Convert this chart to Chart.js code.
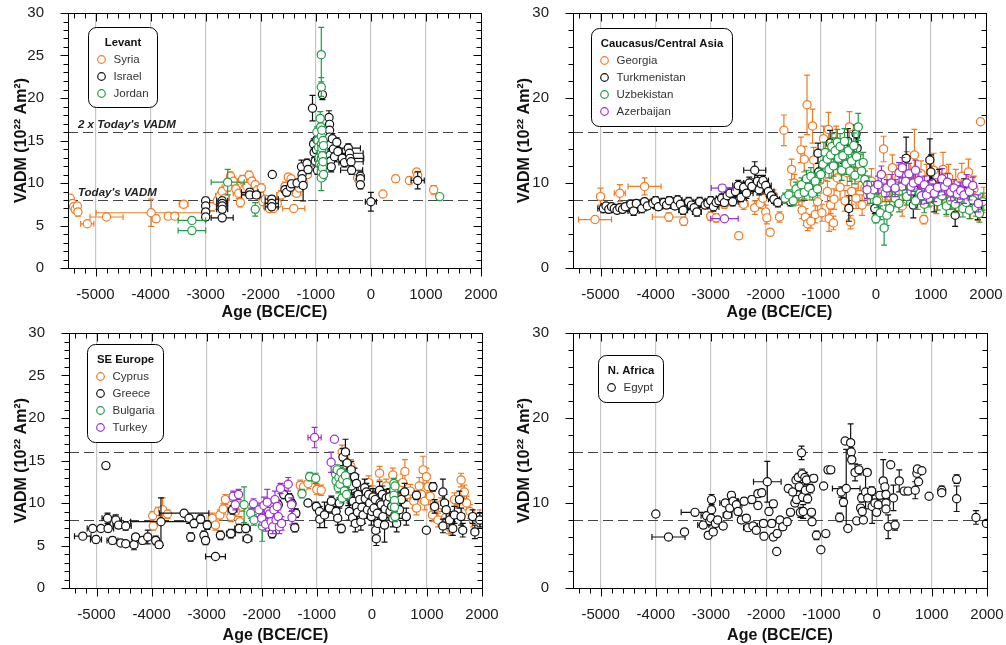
<!DOCTYPE html>
<html>
<head>
<meta charset="utf-8">
<script src="https://cdn.jsdelivr.net/npm/chart.js@4.4.1/dist/chart.umd.min.js"></script>
<style>
  body { margin: 0; background: #fff; }
  #wrap { position: relative; width: 1006px; height: 645px; }
  #wrap canvas { position: absolute; }
</style>
</head>
<body>
<div id="wrap">
  <canvas id="levant" width="503" height="322" style="left:0;top:0"></canvas>
  <canvas id="caucasus" width="503" height="322" style="left:503px;top:0"></canvas>
  <canvas id="seEurope" width="503" height="323" style="left:0;top:322px"></canvas>
  <canvas id="nAfrica" width="503" height="323" style="left:503px;top:322px"></canvas>
</div>
<script>
// axis setup
const ageRange = [-5500, 2000]
const vadmRange = [0, 30]
const ageTicks = [-5000, -4000, -3000, -2000, -1000, 0, 1000, 2000]
const vadmTicksFine = [0, 5, 10, 15, 20, 25, 30]
const vadmTicksCoarse = [0, 10, 20, 30]
const todayVADM = 8
const twiceTodayVADM = 16

// each row: [age, VADM, age error, VADM error]
const syria = [
  [-5460, 8.2, 40, 0.3], [-5420, 7.6, 30, 0.3], [-5400, 7.2, 30, 0.3], [-5370, 6.9, 30, 0.3],
  [-5330, 7.3, 30, 0.4], [-5320, 6.6, 30, 0.5], [-5150, 5.2, 120, 0.3], [-4800, 6.0, 300, 0.2],
  [-3990, 6.5, 1000, 1.6], [-3900, 5.8, 60, 0.4], [-3680, 6.1, 60, 0.3], [-3560, 6.1, 60, 0.3],
  [-3400, 7.5, 80, 0.4], [-2880, 7.2, 80, 0.5], [-2790, 7.9, 60, 0.4], [-2740, 8.5, 80, 0.5],
  [-2700, 9.0, 60, 0.5], [-2650, 8.2, 80, 0.4], [-2600, 9.5, 100, 0.5], [-2550, 10.8, 60, 0.5],
  [-2500, 10.2, 80, 0.5], [-2450, 9.3, 60, 0.5], [-2400, 8.8, 100, 0.6], [-2370, 7.7, 60, 0.5],
  [-2330, 10.4, 60, 0.5], [-2300, 9.2, 80, 0.5], [-2250, 9.6, 60, 0.5], [-2210, 10.9, 60, 0.5],
  [-2160, 10.2, 60, 0.5], [-2100, 9.8, 60, 0.4], [-2060, 9.2, 80, 0.5], [-2020, 8.6, 60, 0.5],
  [-1990, 9.4, 60, 0.5], [-1960, 7.8, 60, 0.4], [-1920, 8.1, 60, 0.4], [-1880, 7.2, 60, 0.4],
  [-1840, 7.0, 60, 0.4], [-1770, 7.0, 60, 0.4], [-1700, 7.6, 60, 0.4], [-1630, 8.6, 80, 0.5],
  [-1560, 9.6, 60, 0.5], [-1500, 10.7, 60, 0.4], [-1450, 10.5, 60, 0.4], [-1400, 7.0, 200, 0.3],
  [-1350, 8.8, 80, 0.4], [-1300, 9.4, 60, 0.4], [-1230, 10.1, 60, 0.4], [-1150, 11.0, 60, 0.4],
  [-560, 12.8, 40, 0.3], [-240, 10.6, 30, 0.4], [-210, 10.3, 30, 0.3], [220, 8.7, 30, 0.3],
  [450, 10.5, 30, 0.4], [700, 10.3, 30, 0.4], [830, 11.3, 30, 0.3], [850, 10.9, 30, 0.3],
  [1140, 9.2, 30, 0.5]
]
const israel = [
  [-3000, 7.9, 50, 0.4], [-3000, 7.3, 50, 0.4], [-3000, 6.6, 50, 0.5], [-3000, 6.0, 50, 0.4],
  [-2700, 7.9, 100, 0.4], [-2700, 7.6, 100, 0.4], [-2700, 7.3, 100, 0.4], [-2700, 6.9, 100, 0.4],
  [-2700, 5.9, 200, 0.3], [-2200, 8.9, 150, 0.4], [-2200, 8.6, 150, 0.4], [-2080, 8.6, 80, 0.4],
  [-1800, 8.1, 120, 0.4], [-1800, 7.6, 120, 0.4], [-1800, 7.2, 120, 0.4], [-1790, 11.0, 20, 0.3],
  [-1560, 9.2, 60, 0.4], [-1530, 8.9, 60, 0.4], [-1460, 9.5, 50, 0.4], [-1440, 9.9, 50, 0.4],
  [-1340, 10.0, 50, 0.4], [-1260, 11.9, 50, 0.8], [-1250, 11.0, 50, 0.6], [-1250, 10.5, 50, 0.6],
  [-1230, 9.7, 60, 1.8], [-1160, 12.3, 50, 0.5], [-1140, 11.6, 50, 0.5], [-1060, 18.8, 40, 1.5],
  [-1040, 14.6, 40, 0.6], [-1030, 13.6, 40, 0.6], [-1010, 12.6, 40, 0.6], [-990, 13.9, 40, 0.6],
  [-980, 15.1, 40, 0.6], [-970, 11.5, 40, 0.5], [-950, 12.8, 40, 0.5], [-880, 20.4, 30, 0.6],
  [-860, 11.0, 30, 0.5], [-760, 17.7, 40, 0.8], [-750, 16.9, 40, 0.6], [-750, 16.2, 40, 0.6],
  [-750, 15.4, 40, 0.6], [-740, 14.5, 40, 0.6], [-740, 13.3, 40, 0.6], [-730, 12.6, 40, 0.6],
  [-720, 11.9, 40, 0.6], [-700, 15.2, 60, 0.6], [-680, 14.0, 60, 0.6], [-660, 13.1, 60, 0.6],
  [-620, 14.8, 60, 0.5], [-600, 13.7, 80, 0.5], [-520, 12.9, 100, 0.5], [-480, 12.4, 100, 0.5],
  [-410, 14.1, 220, 0.5], [-390, 13.5, 250, 0.5], [-380, 12.9, 250, 0.5], [-360, 12.5, 220, 0.5],
  [-350, 11.5, 200, 0.5], [-190, 10.8, 30, 0.5], [-190, 10.5, 30, 0.5], [-190, 9.8, 30, 0.5],
  [0, 7.8, 100, 1.1], [850, 10.3, 120, 1.0]
]
const jordan = [
  [-3250, 5.6, 250, 0.3], [-3250, 4.4, 250, 0.3], [-2600, 10.1, 300, 1.5], [-2100, 6.9, 40, 0.8],
  [-980, 16.0, 40, 0.6], [-960, 15.0, 30, 0.6], [-950, 14.2, 30, 0.6], [-940, 13.0, 30, 0.6],
  [-930, 12.2, 30, 0.6], [-920, 17.6, 30, 0.8], [-910, 16.6, 30, 0.6], [-900, 25.1, 40, 3.2],
  [-900, 21.3, 40, 1.1], [-900, 15.5, 30, 0.6], [-900, 14.6, 30, 0.6], [-900, 13.6, 30, 0.6],
  [-900, 12.9, 30, 0.6], [-900, 12.0, 30, 0.6], [-900, 11.3, 30, 0.6], [-900, 10.6, 30, 1.5],
  [-890, 16.2, 30, 0.6], [-890, 14.1, 30, 0.6], [-880, 13.2, 30, 0.6], [-880, 11.8, 30, 0.6],
  [-870, 15.0, 30, 0.6], [-870, 12.5, 30, 0.6], [-860, 14.4, 30, 0.6], [-860, 11.0, 30, 0.6],
  [1250, 8.4, 30, 0.2]
]

const georgia = [
  [-5100, 5.7, 300, 0.3], [-5000, 8.4, 60, 1.0], [-4650, 8.8, 100, 1.0], [-4200, 9.6, 300, 1.0],
  [-3760, 6.0, 300, 0.5], [-3490, 5.5, 60, 0.5], [-3000, 6.1, 60, 0.5], [-2900, 5.9, 60, 0.5],
  [-2750, 7.5, 60, 0.5], [-2490, 3.8, 60, 0.4], [-2400, 7.5, 80, 0.6], [-2200, 7.1, 60, 0.8],
  [-2100, 7.6, 60, 0.6], [-2050, 8.2, 60, 0.7], [-2000, 6.6, 60, 0.8], [-1980, 5.9, 60, 0.7],
  [-1920, 4.2, 60, 0.4], [-1860, 8.5, 60, 0.7], [-1750, 6.0, 60, 0.6], [-1670, 16.2, 40, 1.8],
  [-1530, 11.6, 60, 1.2], [-1480, 10.0, 60, 1.0], [-1400, 8.4, 60, 1.0], [-1360, 13.9, 60, 1.5],
  [-1340, 6.8, 60, 1.0], [-1300, 12.8, 60, 1.5], [-1280, 6.0, 60, 1.0], [-1250, 19.2, 60, 3.5],
  [-1240, 5.2, 60, 0.8], [-1200, 9.2, 60, 1.2], [-1180, 5.5, 60, 0.8], [-1150, 16.7, 60, 2.0],
  [-1130, 12.7, 60, 1.5], [-1100, 6.3, 60, 1.0], [-1060, 7.8, 60, 1.2], [-1020, 10.3, 60, 1.5],
  [-980, 6.5, 60, 1.0], [-950, 15.2, 60, 1.5], [-920, 11.8, 60, 1.5], [-880, 9.0, 60, 1.2],
  [-860, 16.3, 60, 2.0], [-850, 5.8, 60, 1.5], [-820, 7.4, 60, 1.0], [-800, 12.0, 60, 1.5],
  [-770, 5.3, 60, 0.8], [-760, 8.1, 60, 1.2], [-720, 14.9, 60, 1.8], [-700, 10.6, 60, 1.5],
  [-650, 9.5, 60, 1.5], [-600, 12.4, 60, 1.5], [-560, 7.9, 60, 1.2], [-520, 11.2, 60, 1.5],
  [-480, 16.6, 60, 1.8], [-460, 5.4, 60, 0.8], [-440, 9.0, 60, 1.5], [-400, 12.7, 60, 1.8],
  [-360, 8.2, 60, 1.2], [-320, 10.6, 60, 1.5], [-280, 11.8, 60, 1.5], [-250, 7.4, 60, 1.2],
  [-200, 9.4, 60, 1.4], [-150, 8.6, 60, 1.2], [-80, 10.2, 60, 1.5], [50, 8.0, 60, 1.2],
  [140, 14.0, 60, 1.5], [200, 9.5, 60, 1.5], [260, 7.5, 60, 1.2], [300, 11.8, 60, 1.5],
  [350, 8.8, 60, 1.4], [420, 10.6, 60, 1.5], [480, 7.3, 60, 1.2], [560, 11.9, 60, 1.8],
  [620, 9.8, 60, 1.5], [700, 13.3, 60, 3.0], [760, 8.4, 60, 1.5], [820, 11.1, 60, 1.5],
  [870, 5.7, 60, 0.5], [920, 10.4, 60, 1.8], [980, 8.8, 60, 1.5], [1050, 11.5, 60, 2.0],
  [1100, 7.9, 60, 1.5], [1160, 9.9, 60, 1.5], [1220, 11.6, 60, 2.0], [1280, 7.6, 60, 1.5],
  [1320, 10.7, 60, 1.5], [1380, 8.5, 60, 1.5], [1450, 9.8, 60, 1.8], [1500, 7.2, 60, 1.2],
  [1560, 10.8, 60, 1.5], [1620, 8.2, 60, 1.5], [1680, 11.3, 60, 1.5], [1720, 7.0, 60, 1.2],
  [1780, 9.3, 60, 1.5], [1850, 6.8, 60, 1.2], [1900, 17.2, 20, 0.3], [1960, 8.0, 40, 1.5]
]
const turkmenistan = [
  [-4950, 7.0, 100, 0.5], [-4900, 7.3, 80, 0.4], [-4850, 6.9, 80, 0.4], [-4800, 7.2, 80, 0.4],
  [-4750, 7.0, 80, 0.4], [-4700, 6.8, 80, 0.4], [-4650, 7.1, 80, 0.4], [-4600, 6.9, 80, 0.4],
  [-4550, 7.2, 100, 0.4], [-4450, 7.5, 80, 0.5], [-4400, 6.7, 100, 0.5], [-4350, 7.6, 80, 0.4],
  [-4250, 7.0, 80, 0.5], [-4200, 7.8, 80, 0.4], [-4150, 7.3, 100, 0.4], [-4050, 7.6, 80, 0.4],
  [-4000, 7.9, 80, 0.5], [-3950, 7.2, 80, 0.4], [-3850, 7.7, 80, 0.5], [-3800, 7.4, 100, 0.4],
  [-3750, 7.9, 80, 0.5], [-3650, 7.3, 80, 0.4], [-3600, 8.0, 80, 0.5], [-3550, 7.5, 80, 0.5],
  [-3500, 6.8, 80, 0.5], [-3400, 7.8, 80, 0.5], [-3350, 7.4, 80, 0.5], [-3300, 7.1, 100, 0.4],
  [-3250, 6.6, 80, 0.5], [-3200, 7.8, 80, 0.5], [-3100, 7.4, 80, 0.4], [-3050, 7.6, 80, 0.5],
  [-3000, 7.9, 100, 0.5], [-2950, 7.2, 100, 0.5], [-2900, 7.7, 80, 0.5], [-2850, 7.9, 100, 0.5],
  [-2800, 8.2, 100, 0.5], [-2750, 7.7, 100, 0.4], [-2700, 8.5, 100, 0.5], [-2650, 8.8, 100, 0.6],
  [-2600, 7.8, 100, 0.5], [-2550, 9.0, 100, 0.6], [-2500, 9.7, 100, 0.6], [-2450, 8.3, 100, 0.5],
  [-2400, 9.5, 100, 0.6], [-2350, 8.8, 120, 0.6], [-2300, 10.0, 100, 0.7], [-2250, 9.6, 100, 0.6],
  [-2200, 11.5, 200, 1.0], [-2150, 10.2, 120, 0.7], [-2120, 9.2, 100, 0.6], [-2080, 9.9, 120, 0.7],
  [-2050, 10.3, 100, 0.6], [-2000, 9.7, 100, 0.6], [-1950, 9.0, 100, 0.6], [-1900, 8.5, 80, 0.5],
  [-1850, 8.1, 100, 0.5], [-1780, 7.7, 80, 0.5], [-1550, 7.8, 60, 0.5], [-1050, 13.5, 60, 1.2],
  [-1040, 11.3, 60, 1.0], [-830, 14.7, 60, 1.5], [-790, 12.6, 60, 1.0], [-600, 13.5, 60, 1.2],
  [-510, 14.9, 60, 1.5], [-490, 7.0, 60, 1.5], [-470, 13.2, 60, 1.5], [-360, 15.8, 60, 1.0],
  [-340, 14.1, 60, 1.2], [-20, 7.0, 60, 0.6], [550, 12.9, 60, 2.5], [680, 7.4, 40, 1.5],
  [700, 9.2, 40, 1.0], [980, 12.7, 60, 2.5], [1000, 11.3, 60, 2.0], [1020, 10.0, 60, 1.5],
  [1060, 8.1, 60, 1.5], [1150, 9.6, 60, 2.0], [1440, 6.2, 40, 1.3], [1600, 9.0, 60, 1.5],
  [1700, 7.9, 60, 1.2], [1850, 6.9, 60, 1.2]
]
const uzbekistan = [
  [-1650, 8.2, 60, 0.6], [-1580, 8.6, 60, 0.6], [-1500, 7.9, 60, 0.6], [-1450, 9.3, 60, 0.8],
  [-1400, 8.7, 60, 0.7], [-1350, 9.8, 60, 0.8], [-1300, 8.9, 60, 0.8], [-1260, 10.5, 60, 1.0],
  [-1220, 9.5, 60, 0.8], [-1180, 10.8, 60, 1.0], [-1150, 8.8, 60, 0.8], [-1100, 10.2, 60, 1.0],
  [-1060, 9.3, 60, 0.8], [-1000, 11.0, 60, 1.0], [-960, 12.2, 60, 1.2], [-920, 13.6, 60, 1.2],
  [-880, 12.8, 60, 1.2], [-850, 11.6, 60, 1.0], [-820, 13.3, 60, 1.2], [-800, 14.3, 60, 1.5],
  [-770, 12.0, 60, 1.2], [-740, 13.8, 60, 1.5], [-700, 14.8, 60, 1.5], [-680, 12.9, 60, 1.3],
  [-650, 14.3, 60, 1.5], [-620, 11.5, 60, 1.2], [-600, 13.2, 60, 1.3], [-570, 14.9, 60, 1.5],
  [-540, 12.2, 60, 1.2], [-500, 13.8, 60, 1.4], [-470, 11.4, 60, 1.2], [-440, 12.6, 60, 1.3],
  [-400, 14.4, 60, 1.5], [-380, 10.9, 60, 1.0], [-350, 13.1, 60, 1.3], [-320, 16.6, 60, 1.6],
  [-300, 12.2, 60, 1.2], [-260, 11.4, 60, 1.2], [-230, 12.4, 60, 1.2], [-200, 10.4, 60, 1.0],
  [-150, 9.8, 60, 1.0], [-100, 8.6, 60, 1.0], [-40, 9.2, 60, 1.0], [0, 5.8, 60, 0.5],
  [20, 7.9, 60, 0.8], [80, 6.5, 60, 0.8], [150, 4.7, 60, 2.0], [170, 8.8, 60, 1.0],
  [200, 6.2, 60, 1.2], [250, 7.0, 60, 0.8], [300, 9.4, 60, 1.0], [350, 8.2, 60, 1.0],
  [420, 7.6, 60, 1.0], [480, 9.6, 60, 1.0], [560, 8.4, 60, 1.0], [640, 9.0, 60, 1.0],
  [720, 7.9, 60, 1.0], [800, 8.8, 60, 1.0], [880, 7.5, 60, 1.0], [960, 8.2, 60, 1.0],
  [1040, 8.9, 60, 1.0], [1120, 7.8, 60, 1.0], [1200, 8.5, 60, 1.0], [1280, 7.3, 60, 1.0],
  [1360, 7.9, 60, 1.0], [1440, 7.5, 60, 1.0], [1520, 8.2, 60, 1.0], [1580, 7.0, 60, 1.0],
  [1640, 7.7, 60, 1.0], [1700, 6.8, 60, 1.0], [1760, 8.0, 60, 1.0], [1820, 7.1, 60, 1.0],
  [1880, 6.4, 60, 1.0], [1940, 7.8, 60, 1.0]
]
const azerbaijan = [
  [-2790, 9.4, 200, 0.4], [-2750, 5.8, 250, 0.3], [-160, 9.2, 60, 1.0], [40, 9.8, 60, 1.0],
  [100, 11.0, 60, 1.0], [200, 9.4, 60, 1.0], [280, 10.0, 60, 1.0], [350, 9.4, 60, 1.0],
  [420, 11.2, 60, 1.2], [480, 11.8, 60, 1.2], [540, 10.2, 60, 1.0], [600, 11.1, 60, 1.2],
  [640, 9.6, 60, 1.0], [680, 10.0, 60, 1.0], [720, 11.5, 60, 1.2], [780, 10.3, 60, 1.0],
  [830, 8.5, 60, 1.0], [880, 9.8, 60, 1.0], [920, 8.6, 60, 1.0], [980, 9.3, 60, 1.0],
  [1060, 8.8, 60, 1.0], [1120, 9.5, 60, 1.0], [1200, 10.5, 60, 1.2], [1250, 9.6, 60, 1.0],
  [1300, 10.1, 60, 1.0], [1360, 8.9, 60, 1.0], [1420, 9.4, 60, 1.0], [1480, 8.7, 60, 1.0],
  [1540, 9.1, 60, 1.0], [1600, 8.6, 60, 1.0], [1650, 10.0, 60, 1.0], [1700, 9.0, 60, 1.0],
  [1760, 9.7, 60, 1.0], [1860, 7.6, 60, 1.0]
]

const cyprus = [
  [-3980, 8.5, 40, 0.5], [-3970, 7.3, 40, 0.5], [-3880, 9.0, 40, 0.5], [-3800, 9.2, 60, 1.4],
  [-3710, 8.7, 40, 0.5], [-2900, 8.2, 60, 0.6], [-2840, 7.4, 60, 0.6], [-2760, 8.6, 60, 0.6],
  [-2700, 9.3, 60, 0.6], [-2660, 10.4, 60, 0.6], [-2560, 8.4, 60, 0.6], [-2480, 9.0, 60, 0.6],
  [-2400, 7.8, 60, 0.6], [-2350, 9.6, 60, 0.6], [-1300, 12.1, 60, 0.6], [-1240, 11.9, 60, 0.6],
  [-1160, 12.3, 60, 0.6], [-1000, 11.6, 60, 0.6], [-920, 11.5, 60, 0.6], [-540, 16.0, 40, 0.8],
  [-500, 15.2, 40, 0.8], [-380, 14.3, 60, 0.8], [-150, 11.0, 60, 0.8], [-60, 12.4, 60, 0.8],
  [20, 11.2, 60, 0.8], [80, 10.0, 60, 0.8], [140, 13.5, 60, 0.8], [200, 9.6, 60, 0.8],
  [260, 12.0, 60, 0.8], [320, 9.0, 60, 0.8], [380, 13.3, 60, 0.8], [440, 10.6, 60, 0.8],
  [500, 11.8, 60, 0.8], [560, 12.4, 60, 1.0], [600, 13.7, 60, 1.4], [640, 11.0, 60, 0.8],
  [700, 11.4, 60, 0.8], [760, 10.2, 60, 0.8], [810, 9.4, 60, 0.8], [860, 12.0, 60, 1.0],
  [900, 11.0, 60, 1.0], [930, 13.9, 60, 1.6], [960, 10.2, 60, 1.0], [990, 13.1, 60, 1.0],
  [1020, 11.9, 60, 1.0], [1060, 10.8, 60, 1.0], [1100, 8.6, 60, 0.8], [1140, 9.4, 60, 0.8],
  [1200, 8.0, 60, 0.8], [1260, 9.8, 60, 0.8], [1340, 8.3, 60, 0.8], [1400, 7.2, 60, 0.8],
  [1440, 7.0, 60, 0.8], [1500, 10.4, 60, 0.8], [1560, 9.0, 60, 0.8], [1620, 12.7, 60, 0.8],
  [1680, 11.3, 60, 0.8], [1720, 10.0, 60, 0.8], [1780, 9.0, 60, 0.8], [1840, 8.0, 60, 0.8],
  [1900, 7.4, 60, 0.8], [1960, 8.4, 60, 0.8]
]
const greece = [
  [-5250, 6.1, 150, 0.3], [-5070, 7.0, 100, 0.3], [-5010, 5.7, 100, 0.4], [-4920, 7.0, 100, 0.3],
  [-4830, 14.4, 50, 0.3], [-4800, 8.2, 100, 0.6], [-4790, 7.0, 100, 0.4], [-4710, 5.6, 100, 0.4],
  [-4650, 8.0, 100, 0.6], [-4600, 7.4, 100, 0.4], [-4560, 5.3, 60, 0.3], [-4470, 7.3, 100, 0.5],
  [-4470, 5.2, 60, 0.3], [-4320, 5.1, 60, 0.6], [-4290, 6.0, 60, 0.4], [-4165, 5.6, 60, 0.4],
  [-4070, 6.0, 60, 0.8], [-3925, 5.6, 60, 0.5], [-3865, 5.1, 60, 0.4], [-3830, 7.8, 550, 2.8],
  [-3410, 8.8, 450, 0.4], [-3320, 8.2, 60, 0.6], [-3290, 6.0, 60, 0.5], [-3230, 7.6, 60, 0.5],
  [-3110, 8.1, 60, 0.5], [-3050, 6.2, 60, 0.5], [-3020, 5.6, 60, 0.5], [-2990, 7.4, 60, 0.5],
  [-2840, 3.7, 180, 0.2], [-2750, 6.2, 60, 0.5], [-2560, 6.4, 80, 0.5], [-2530, 9.2, 80, 0.5],
  [-2410, 7.0, 80, 0.5], [-2290, 7.0, 80, 0.5], [-2260, 5.8, 80, 0.3], [-1810, 6.4, 60, 0.5],
  [-1700, 9.8, 60, 0.5], [-1600, 11.0, 60, 0.5], [-1500, 10.6, 60, 0.5], [-1450, 9.9, 60, 0.5],
  [-1400, 7.1, 60, 0.5], [-1380, 8.8, 60, 0.5], [-1160, 10.0, 60, 0.4], [-1010, 9.6, 60, 0.5],
  [-950, 9.0, 60, 0.6], [-945, 8.1, 60, 1.0], [-860, 8.6, 60, 1.5], [-770, 9.4, 60, 0.6],
  [-735, 10.2, 60, 0.6], [-650, 9.0, 60, 0.6], [-620, 8.2, 60, 0.8], [-590, 10.0, 60, 0.6],
  [-555, 7.0, 60, 0.5], [-525, 15.4, 60, 1.0], [-500, 11.8, 60, 1.0], [-480, 16.0, 60, 1.5],
  [-460, 13.0, 60, 1.0], [-450, 14.7, 60, 1.0], [-430, 10.7, 60, 1.0], [-420, 12.2, 60, 1.0],
  [-410, 9.0, 60, 1.0], [-375, 13.9, 60, 1.0], [-370, 12.0, 60, 1.0], [-350, 8.3, 60, 1.0],
  [-340, 10.2, 60, 1.0], [-315, 13.1, 60, 1.0], [-300, 7.6, 60, 1.0], [-280, 12.3, 60, 1.0],
  [-280, 9.6, 60, 1.0], [-260, 8.9, 60, 1.0], [-250, 11.0, 60, 1.0], [-220, 10.4, 60, 1.0],
  [-200, 7.8, 60, 1.0], [-180, 9.5, 60, 1.0], [-160, 8.6, 60, 1.0], [-130, 11.8, 60, 1.0],
  [-120, 10.5, 60, 1.0], [-100, 11.3, 60, 1.0], [-80, 9.2, 60, 1.0], [-60, 11.0, 60, 1.0],
  [-40, 10.0, 60, 1.0], [-10, 8.4, 60, 1.0], [0, 9.0, 60, 1.0], [20, 10.7, 60, 1.0],
  [40, 9.4, 60, 1.0], [60, 10.4, 60, 1.0], [70, 6.8, 60, 1.0], [80, 5.8, 60, 0.8],
  [100, 8.8, 60, 1.0], [110, 7.6, 60, 1.0], [140, 11.5, 60, 1.0], [150, 10.0, 60, 1.0],
  [170, 9.8, 60, 1.0], [190, 11.0, 60, 1.0], [200, 8.4, 60, 1.0], [230, 7.4, 60, 2.0],
  [240, 9.3, 60, 1.0], [260, 10.6, 60, 1.0], [290, 10.0, 60, 1.0], [320, 10.7, 60, 1.0],
  [330, 9.0, 60, 1.0], [360, 9.6, 60, 1.0], [380, 8.2, 60, 1.0], [420, 8.6, 60, 1.0],
  [450, 7.6, 60, 1.0], [470, 10.2, 60, 1.0], [500, 9.2, 60, 1.0], [535, 10.4, 60, 1.0],
  [595, 11.3, 60, 1.0], [625, 8.4, 60, 1.0], [810, 10.9, 60, 0.5], [990, 6.8, 40, 0.3],
  [1110, 11.9, 60, 0.5], [1140, 9.6, 60, 0.8], [1290, 11.3, 60, 1.5], [1290, 7.3, 60, 0.8],
  [1320, 10.0, 60, 1.0], [1350, 9.2, 60, 1.0], [1410, 8.0, 60, 1.0], [1470, 7.0, 60, 0.8],
  [1500, 8.6, 60, 1.0], [1590, 10.4, 60, 1.0], [1620, 8.4, 60, 1.0], [1650, 6.8, 60, 0.8],
  [1830, 8.4, 60, 0.8], [1870, 6.6, 60, 0.8], [1960, 8.0, 60, 0.8]
]
const bulgaria = [
  [-2320, 9.8, 40, 2.1], [-2200, 8.8, 40, 0.6], [-2140, 8.0, 40, 0.6], [-1990, 7.3, 40, 1.8],
  [-1270, 11.1, 40, 0.5], [-1130, 13.1, 40, 0.5], [-1020, 12.9, 40, 0.6], [-660, 13.4, 30, 0.6],
  [-650, 12.6, 30, 0.6], [-630, 13.9, 30, 0.6], [-610, 11.8, 30, 0.6], [-600, 13.0, 30, 0.6],
  [-580, 12.2, 30, 0.6], [-560, 13.6, 30, 0.6], [-540, 10.6, 30, 0.6], [-530, 12.8, 30, 0.6],
  [-500, 11.4, 30, 0.6], [-480, 13.2, 30, 0.6], [-460, 11.0, 30, 0.6], [-450, 12.4, 30, 0.6],
  [400, 12.3, 30, 0.6], [400, 11.6, 30, 0.6], [400, 10.9, 30, 0.6], [410, 10.3, 30, 0.6],
  [410, 9.5, 30, 0.6], [420, 8.4, 30, 0.6], [420, 12.0, 30, 0.6]
]
const turkey = [
  [-2520, 10.8, 40, 0.6], [-2480, 9.8, 40, 0.6], [-2420, 11.0, 40, 0.6], [-2150, 9.9, 40, 0.6],
  [-2050, 9.2, 40, 0.8], [-2000, 8.2, 40, 0.8], [-1960, 9.7, 40, 1.0], [-1930, 7.5, 40, 0.8],
  [-1900, 10.1, 40, 1.5], [-1880, 9.0, 40, 0.8], [-1860, 8.7, 40, 0.8], [-1830, 7.8, 40, 0.8],
  [-1800, 7.2, 40, 0.8], [-1780, 9.2, 40, 0.8], [-1760, 10.4, 40, 1.0], [-1740, 8.0, 40, 0.8],
  [-1720, 9.6, 40, 0.8], [-1700, 8.4, 40, 0.8], [-1680, 7.2, 40, 0.8], [-1660, 11.7, 40, 0.6],
  [-1640, 7.6, 40, 0.8], [-1520, 12.2, 40, 0.8], [-1460, 9.8, 40, 0.8], [-1450, 8.3, 40, 0.8],
  [-1040, 17.7, 120, 1.2], [-740, 14.8, 40, 1.2], [-680, 17.5, 30, 0.3]
]

const egypt = [
  [-4000, 8.7, 20, 0.3], [-3770, 6.0, 300, 0.3], [-3480, 6.6, 40, 0.3], [-3290, 8.9, 250, 0.3],
  [-3140, 7.4, 100, 0.4], [-3080, 8.5, 100, 0.4], [-3050, 6.2, 60, 0.4], [-3020, 7.9, 60, 0.4],
  [-3000, 8.2, 60, 0.4], [-2990, 10.4, 40, 0.6], [-2990, 9.2, 40, 0.4], [-2960, 6.6, 40, 0.4],
  [-2920, 7.6, 100, 0.4], [-2880, 8.0, 60, 0.4], [-2780, 7.3, 60, 0.4], [-2740, 10.0, 100, 0.4],
  [-2700, 8.6, 80, 0.4], [-2660, 9.4, 60, 0.4], [-2630, 10.9, 40, 0.4], [-2600, 10.2, 80, 0.4],
  [-2540, 9.8, 100, 0.4], [-2510, 9.0, 60, 0.4], [-2450, 8.0, 60, 0.4], [-2400, 10.2, 100, 0.4],
  [-2360, 8.2, 60, 0.4], [-2330, 7.1, 80, 0.4], [-2260, 10.4, 60, 0.4], [-2240, 7.3, 80, 0.4],
  [-2180, 6.8, 60, 0.4], [-2150, 11.1, 60, 0.4], [-2150, 9.7, 40, 0.4], [-2080, 11.2, 40, 0.4],
  [-2050, 7.6, 60, 0.4], [-2040, 6.1, 40, 0.4], [-1980, 12.5, 250, 2.4], [-1950, 9.0, 40, 0.4],
  [-1900, 7.6, 60, 0.4], [-1870, 9.9, 40, 0.4], [-1870, 6.0, 40, 0.4], [-1810, 4.3, 30, 0.3],
  [-1800, 6.4, 40, 0.4], [-1750, 8.0, 60, 0.4], [-1700, 7.2, 60, 0.4], [-1620, 7.8, 60, 0.4],
  [-1600, 11.7, 40, 0.4], [-1560, 8.9, 60, 0.4], [-1520, 11.3, 40, 0.4], [-1480, 10.0, 60, 0.4],
  [-1460, 12.7, 40, 0.4], [-1450, 10.4, 40, 0.4], [-1420, 13.0, 60, 0.5], [-1400, 11.9, 40, 0.5],
  [-1380, 8.9, 60, 0.6], [-1360, 15.9, 40, 0.8], [-1350, 13.4, 60, 0.6], [-1340, 10.7, 40, 0.5],
  [-1330, 9.0, 40, 0.8], [-1300, 13.0, 60, 0.6], [-1290, 11.5, 40, 0.5], [-1270, 12.7, 60, 0.5],
  [-1250, 10.5, 40, 0.5], [-1200, 11.7, 60, 0.5], [-1180, 8.9, 60, 0.4], [-1170, 7.8, 60, 0.4],
  [-1140, 12.9, 60, 0.4], [-1090, 6.2, 40, 0.5], [-1010, 4.5, 40, 0.3], [-960, 12.0, 20, 0.3],
  [-920, 6.4, 20, 0.3], [-880, 13.9, 60, 0.3], [-830, 13.9, 60, 0.3], [-670, 8.3, 40, 0.5],
  [-640, 11.3, 40, 0.6], [-600, 10.1, 40, 0.5], [-570, 17.3, 40, 0.3], [-550, 11.7, 250, 4.6],
  [-520, 7.0, 40, 0.3], [-470, 17.1, 40, 2.2], [-460, 16.0, 40, 0.5], [-450, 15.1, 40, 0.5],
  [-390, 13.6, 60, 1.0], [-360, 7.9, 40, 0.3], [-320, 13.9, 60, 0.6], [-290, 9.4, 40, 0.4],
  [-270, 10.6, 40, 0.5], [-260, 9.0, 40, 0.4], [-240, 8.0, 40, 0.3], [-200, 11.3, 40, 2.0],
  [-170, 13.6, 60, 0.3], [-160, 10.6, 40, 0.4], [-90, 11.4, 60, 0.5], [-80, 9.6, 40, 2.0],
  [-30, 10.0, 40, 0.4], [0, 8.9, 40, 0.3], [30, 9.8, 40, 0.4], [60, 10.9, 40, 0.4],
  [120, 12.6, 40, 2.5], [150, 11.9, 40, 0.5], [170, 11.0, 40, 0.4], [170, 10.0, 40, 0.4],
  [170, 9.3, 40, 0.4], [210, 7.2, 40, 1.4], [255, 14.5, 30, 0.3], [305, 10.6, 40, 1.5],
  [335, 7.4, 40, 0.6], [410, 12.6, 60, 1.3], [500, 11.4, 40, 0.3], [570, 11.4, 40, 0.3],
  [700, 11.5, 40, 1.0], [730, 13.5, 30, 0.3], [740, 14.0, 30, 0.3], [760, 12.5, 30, 0.3],
  [820, 13.8, 30, 0.3], [950, 10.8, 30, 0.3], [1180, 11.5, 30, 0.5], [1180, 11.2, 30, 0.3],
  [1450, 12.8, 30, 0.5], [1450, 10.5, 30, 1.5], [1800, 8.3, 30, 0.8], [1990, 7.6, 20, 0.3]
]

const ORANGE = '#f47a20'
const BLACK = '#111111'
const GREEN = '#1f9d45'
const PURPLE = '#9b2fd6'

const FONT = '"Liberation Sans", Arial, sans-serif'

function toPoints(rows){
  return rows.map(([x, y, ex, ey]) => ({ x, y, ex, ey }))
}

// rounded rectangle path (legend box)
function roundedRect(ctx, x, y, w, h, r){
  ctx.beginPath()
  ctx.moveTo(x + r, y)
  ctx.arcTo(x + w, y, x + w, y + h, r)
  ctx.arcTo(x + w, y + h, x, y + h, r)
  ctx.arcTo(x, y + h, x, y, r)
  ctx.arcTo(x, y, x + w, y, r)
  ctx.closePath()
}

// horizontal and vertical error bars with caps, drawn just under each dataset's markers
const errorBars = {
  id: 'errorBars',
  beforeDatasetDraw(chart, args){
    const { ctx, chartArea: a, scales: { x, y } } = chart
    const ds = chart.data.datasets[args.index]
    const cap = 3
    ctx.save()
    ctx.beginPath()
    ctx.rect(a.left, a.top, a.right - a.left, a.bottom - a.top)
    ctx.clip()
    ctx.strokeStyle = ds.borderColor
    ctx.lineWidth = 1.2
    ctx.beginPath()
    for (const p of ds.data){
      const px = x.getPixelForValue(p.x)
      const py = y.getPixelForValue(p.y)
      if (p.ex){
        const l = x.getPixelForValue(p.x - p.ex)
        const r = x.getPixelForValue(p.x + p.ex)
        ctx.moveTo(l, py); ctx.lineTo(r, py)
        ctx.moveTo(l, py - cap); ctx.lineTo(l, py + cap)
        ctx.moveTo(r, py - cap); ctx.lineTo(r, py + cap)
      }
      if (p.ey){
        const t = y.getPixelForValue(p.y + p.ey)
        const b = y.getPixelForValue(p.y - p.ey)
        ctx.moveTo(px, t); ctx.lineTo(px, b)
        ctx.moveTo(px - cap, t); ctx.lineTo(px + cap, t)
        ctx.moveTo(px - cap, b); ctx.lineTo(px + cap, b)
      }
    }
    ctx.stroke()
    ctx.restore()
  }
}

// dashed reference levels, frame with tick marks, and the boxed legend
const vadmFrame = {
  id: 'vadmFrame',
  beforeDatasetsDraw(chart, args, o){
    const { ctx, chartArea: a, scales: { y } } = chart
    ctx.save()
    ctx.strokeStyle = '#444'
    ctx.lineWidth = 1.2
    ctx.setLineDash([10, 5])
    for (const v of [todayVADM, twiceTodayVADM]){
      const py = Math.round(y.getPixelForValue(v)) + 0.5
      ctx.beginPath(); ctx.moveTo(a.left, py); ctx.lineTo(a.right, py); ctx.stroke()
    }
    ctx.setLineDash([])
    ctx.fillStyle = '#222'
    ctx.font = 'italic bold 11.5px ' + FONT
    ctx.textBaseline = 'alphabetic'
    for (const lab of o.refLabels || []){
      ctx.fillText(lab.text, a.left + 10, y.getPixelForValue(lab.value) - 4)
    }
    ctx.restore()
  },
  afterDraw(chart, args, o){
    const { ctx, chartArea: a, scales: { x, y } } = chart
    ctx.save()
    ctx.strokeStyle = '#000'
    ctx.lineWidth = 1
    const L = Math.round(a.left) + 0.5, R = Math.round(a.right) + 0.5
    const T = Math.round(a.top) + 0.5, B = Math.round(a.bottom) + 0.5
    ctx.strokeRect(L, T, R - L, B - T)
    ctx.beginPath()
    // age ticks: outward at the bottom, inward at the top
    for (let v = Math.ceil(ageRange[0] / 200) * 200; v <= ageRange[1]; v += 200){
      const px = Math.round(x.getPixelForValue(v)) + 0.5
      const len = v % 1000 === 0 ? 8 : 5
      ctx.moveTo(px, B); ctx.lineTo(px, B + len)
      ctx.moveTo(px, T); ctx.lineTo(px, T + len)
    }
    // VADM ticks: outward on the left, inward on the right
    for (let v = vadmRange[0]; v <= vadmRange[1]; v += o.minorStep){
      const py = Math.round(y.getPixelForValue(v)) + 0.5
      const len = v % o.majorStep === 0 ? 8 : 5
      ctx.moveTo(L, py); ctx.lineTo(L - len, py)
      ctx.moveTo(R, py); ctx.lineTo(R - len, py)
    }
    ctx.stroke()

    // legend
    const g = o.legend
    const bx = Math.round(a.left + g.dx) + 0.5
    const by = Math.round(a.top + g.dy) + 0.5
    roundedRect(ctx, bx, by, g.w, g.h, 8)
    ctx.fillStyle = '#fff'
    ctx.fill()
    ctx.stroke()
    ctx.fillStyle = '#111'
    ctx.font = 'bold 11.3px ' + FONT
    ctx.textAlign = 'center'
    ctx.textBaseline = 'middle'
    ctx.fillText(g.title, bx + g.w / 2, by + 15)
    ctx.textAlign = 'left'
    ctx.font = '11.5px ' + FONT
    chart.data.datasets.forEach((ds, i) => {
      const cy = by + 32 + i * 17
      ctx.beginPath()
      ctx.arc(bx + 13, cy, 3.8, 0, Math.PI * 2)
      ctx.strokeStyle = ds.borderColor
      ctx.lineWidth = 1.2
      ctx.stroke()
      ctx.fillStyle = '#333'
      ctx.fillText(ds.label, bx + 25, cy + 0.5)
    })
    ctx.restore()
  }
}

// keep tick labels from pushing the plot area inwards
function noLabelOverhang(s){
  s.paddingLeft = 0
  s.paddingRight = 0
  s.paddingTop = 0
  s.paddingBottom = 0
}

function makePanel(canvasId, panel){
  const n = panel.series.length
  const datasets = panel.series.map((s, i) => ({
    label: s.label,
    data: toPoints(s.rows),
    borderColor: s.color,
    backgroundColor: '#ffffff',
    pointRadius: 4.1,
    pointBorderWidth: 1.2,
    order: n - i,
  }))

  return new Chart(document.getElementById(canvasId), {
    type: 'scatter',
    data: { datasets },
    options: {
      responsive: false,
      animation: false,
      events: [],
      layout: { autoPadding: false, padding: panel.padding },
      plugins: {
        legend: { display: false },
        tooltip: { enabled: false },
        vadmFrame: {
          minorStep: panel.minorStep,
          majorStep: panel.majorStep,
          legend: panel.legend,
          refLabels: panel.refLabels,
        },
      },
      scales: {
        x: {
          type: 'linear',
          min: ageRange[0],
          max: ageRange[1],
          afterBuildTicks: s => { s.ticks = ageTicks.map(v => ({ value: v })) },
          afterFit: s => { s.height = panel.xAxisHeight; noLabelOverhang(s) },
          ticks: {
            autoSkip: false, maxRotation: 0, padding: 18, color: '#1a1a1a',
            font: { family: FONT, size: 15 },
            callback: v => String(v),
          },
          grid: {
            drawTicks: false,
            lineWidth: 1.2,
            color: c => (c.tick && c.tick.value < ageRange[1]) ? '#c6c6c6' : 'rgba(0,0,0,0)',
          },
          border: { display: false },
          title: {
            display: true, text: 'Age (BCE/CE)', color: '#111',
            font: { family: FONT, size: 16, weight: 'bold' },
            padding: { top: 0, bottom: 0 },
          },
        },
        y: {
          min: vadmRange[0],
          max: vadmRange[1],
          afterBuildTicks: s => { s.ticks = panel.yTicks.map(v => ({ value: v })) },
          afterFit: s => { s.width = panel.yAxisWidth; noLabelOverhang(s) },
          ticks: {
            padding: 16, color: '#1a1a1a',
            font: { family: FONT, size: 15 },
            callback: v => String(v),
          },
          grid: { display: false },
          border: { display: false },
          title: {
            display: true, text: 'VADM (10²² Am²)', color: '#111',
            font: { family: FONT, size: 16, weight: 'bold' },
            padding: { top: 11.5, bottom: 0 },
          },
        },
      },
    },
    plugins: [errorBars, vadmFrame],
  })
}

makePanel('levant', {
  series: [
    { label: 'Syria', color: ORANGE, rows: syria },
    { label: 'Israel', color: BLACK, rows: israel },
    { label: 'Jordan', color: GREEN, rows: jordan },
  ],
  yTicks: vadmTicksFine, minorStep: 1, majorStep: 5,
  padding: { left: 0, top: 13, right: 22, bottom: 0 },
  yAxisWidth: 68, xAxisHeight: 54,
  legend: { title: 'Levant', dx: 20, dy: 14, w: 69, h: 80 },
  refLabels: [
    { text: "2 x Today's VADM", value: twiceTodayVADM },
    { text: "Today's VADM", value: todayVADM },
  ],
})

makePanel('caucasus', {
  series: [
    { label: 'Georgia', color: ORANGE, rows: georgia },
    { label: 'Turkmenistan', color: BLACK, rows: turkmenistan },
    { label: 'Uzbekistan', color: GREEN, rows: uzbekistan },
    { label: 'Azerbaijan', color: PURPLE, rows: azerbaijan },
  ],
  yTicks: vadmTicksCoarse, minorStep: 2, majorStep: 10,
  padding: { left: 0, top: 13, right: 20, bottom: 0 },
  yAxisWidth: 70, xAxisHeight: 54,
  legend: { title: 'Caucasus/Central Asia', dx: 18, dy: 15, w: 141, h: 98 },
})

makePanel('seEurope', {
  series: [
    { label: 'Cyprus', color: ORANGE, rows: cyprus },
    { label: 'Greece', color: BLACK, rows: greece },
    { label: 'Bulgaria', color: GREEN, rows: bulgaria },
    { label: 'Turkey', color: PURPLE, rows: turkey },
  ],
  yTicks: vadmTicksFine, minorStep: 1, majorStep: 5,
  padding: { left: 0, top: 11, right: 21, bottom: 0 },
  yAxisWidth: 69, xAxisHeight: 57,
  legend: { title: 'SE Europe', dx: 18, dy: 11, w: 76, h: 98 },
})

makePanel('nAfrica', {
  series: [
    { label: 'Egypt', color: BLACK, rows: egypt },
  ],
  yTicks: vadmTicksCoarse, minorStep: 2, majorStep: 10,
  padding: { left: 0, top: 11, right: 19, bottom: 0 },
  yAxisWidth: 70, xAxisHeight: 57,
  legend: { title: 'N. Africa', dx: 25, dy: 22, w: 65, h: 47 },
})
</script>
</body>
</html>
